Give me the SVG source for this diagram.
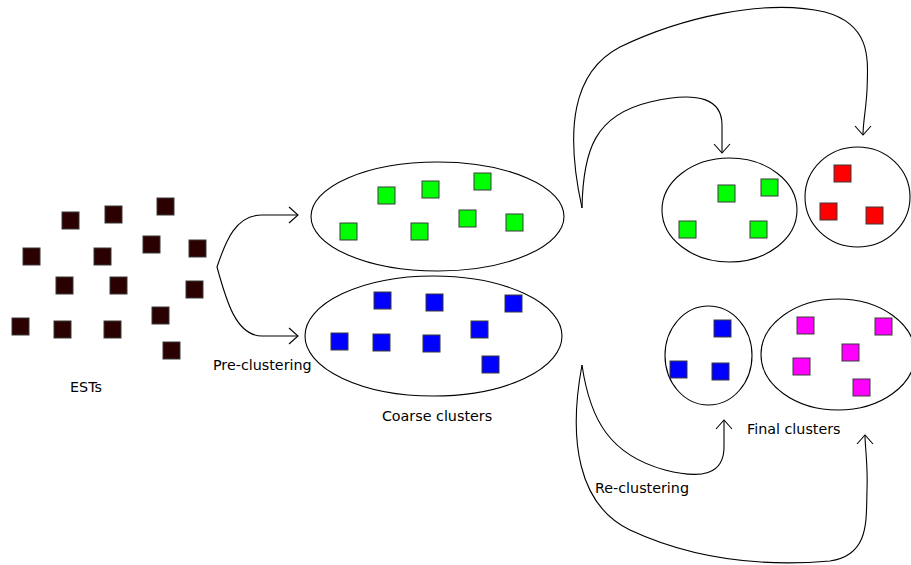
<svg xmlns="http://www.w3.org/2000/svg" width="911" height="565" viewBox="0 0 911 565">
<style>
.sq{stroke:#3a3a3a;stroke-width:1}
.est{fill:#2b0000}
.g{fill:#00ff00}
.b{fill:#0000ff}
.r{fill:#ff0000}
.m{fill:#ff00ff}
.cl{fill:#ffffff;stroke:#000;stroke-width:1.1}
.con{fill:none;stroke:#000;stroke-width:1.1}
text{font-family:"DejaVu Sans",sans-serif;font-size:14.3px;fill:#000}
</style>
<defs>
<marker id="v" markerUnits="userSpaceOnUse" markerWidth="24" markerHeight="24" refX="0" refY="0" viewBox="-12 -12 24 24" orient="auto-start-reverse" overflow="visible">
<path d="M -9,-8 L 0,0 L -9,8" fill="none" stroke="#000" stroke-width="1.1"/>
</marker>
</defs>
<rect width="911" height="565" fill="#ffffff"/>

<g id="ests">
<rect class="sq est" x="62" y="212" width="17" height="17"/>
<rect class="sq est" x="105" y="206" width="17" height="17"/>
<rect class="sq est" x="157" y="198" width="17" height="17"/>
<rect class="sq est" x="23" y="248" width="17" height="17"/>
<rect class="sq est" x="94" y="248" width="17" height="17"/>
<rect class="sq est" x="143" y="236" width="17" height="17"/>
<rect class="sq est" x="189" y="240" width="17" height="17"/>
<rect class="sq est" x="56" y="277" width="17" height="17"/>
<rect class="sq est" x="110" y="277" width="17" height="17"/>
<rect class="sq est" x="186" y="281" width="17" height="17"/>
<rect class="sq est" x="12" y="318" width="17" height="17"/>
<rect class="sq est" x="54" y="321" width="17" height="17"/>
<rect class="sq est" x="104" y="321" width="17" height="17"/>
<rect class="sq est" x="152" y="307" width="17" height="17"/>
<rect class="sq est" x="163" y="342" width="17" height="17"/>
<text x="86" y="392" text-anchor="middle">ESTs</text>
</g>

<g id="coarse-green">
<ellipse class="cl" cx="437.5" cy="216.5" rx="126.5" ry="54.5"/>
<rect class="sq g" x="378" y="187" width="17" height="17"/>
<rect class="sq g" x="422" y="181" width="17" height="17"/>
<rect class="sq g" x="474" y="173" width="17" height="17"/>
<rect class="sq g" x="340" y="223" width="17" height="17"/>
<rect class="sq g" x="411" y="223" width="17" height="17"/>
<rect class="sq g" x="459" y="210" width="17" height="17"/>
<rect class="sq g" x="506" y="214" width="17" height="17"/>
</g>

<g id="coarse-blue">
<ellipse class="cl" cx="433.5" cy="336" rx="128.5" ry="60"/>
<rect class="sq b" x="374" y="292" width="17" height="17"/>
<rect class="sq b" x="426" y="294" width="17" height="17"/>
<rect class="sq b" x="505" y="295" width="17" height="17"/>
<rect class="sq b" x="471" y="321" width="17" height="17"/>
<rect class="sq b" x="331" y="333" width="17" height="17"/>
<rect class="sq b" x="373" y="334" width="17" height="17"/>
<rect class="sq b" x="423" y="335" width="17" height="17"/>
<rect class="sq b" x="482" y="356" width="17" height="17"/>
</g>

<g id="final-green">
<ellipse class="cl" cx="729.5" cy="210" rx="67.5" ry="52"/>
<rect class="sq g" x="718" y="185" width="17" height="17"/>
<rect class="sq g" x="761" y="179" width="17" height="17"/>
<rect class="sq g" x="679" y="221" width="17" height="17"/>
<rect class="sq g" x="750" y="221" width="17" height="17"/>
</g>

<g id="final-red">
<ellipse class="cl" cx="857.5" cy="197" rx="52.5" ry="50"/>
<rect class="sq r" x="834" y="165" width="17" height="17"/>
<rect class="sq r" x="820" y="203" width="17" height="17"/>
<rect class="sq r" x="866" y="207" width="17" height="17"/>
</g>

<g id="final-blue">
<ellipse class="cl" cx="708.5" cy="355.5" rx="43.5" ry="49.5"/>
<rect class="sq b" x="714" y="320" width="17" height="17"/>
<rect class="sq b" x="670" y="361" width="17" height="17"/>
<rect class="sq b" x="712" y="363" width="17" height="17"/>
</g>

<g id="final-magenta">
<ellipse class="cl" cx="838" cy="354.5" rx="77" ry="55.5"/>
<rect class="sq m" x="797" y="317" width="17" height="17"/>
<rect class="sq m" x="875" y="318" width="17" height="17"/>
<rect class="sq m" x="842" y="344" width="17" height="17"/>
<rect class="sq m" x="793" y="358" width="17" height="17"/>
<rect class="sq m" x="853" y="379" width="17" height="17"/>
</g>

<g id="connectors">
<path class="con" marker-start="url(#v)" marker-end="url(#v)" d="M 298,215 L 262,215 C 236,215 226,240 217,267 C 226,300 236,336 262,336 L 298,336"/>
<path class="con" marker-end="url(#v)" d="M 582,208 C 583,150 595,115 650,102 C 700,90 722,100 722,125 L 722,153"/>
<path class="con" marker-end="url(#v)" d="M 582,208 C 565,130 572,72 620,47 C 680,18 765,-2 825,12 C 872,25 868,60 867,90 C 866,110 863,122 863,135"/>
<path class="con" marker-end="url(#v)" d="M 582,365 C 590,420 610,455 665,470 C 700,479 725,476 724,445 L 724,420"/>
<path class="con" marker-end="url(#v)" d="M 582,365 C 568,440 578,505 630,530 C 690,558 760,567 830,561 C 870,555 866,520 867,490 C 868,465 865,447 865,435"/>
</g>

<g id="labels">
<text x="213" y="370">Pre-clustering</text>
<text x="437" y="421" text-anchor="middle">Coarse clusters</text>
<text x="747" y="434">Final clusters</text>
<text x="595" y="493">Re-clustering</text>
</g>
</svg>
